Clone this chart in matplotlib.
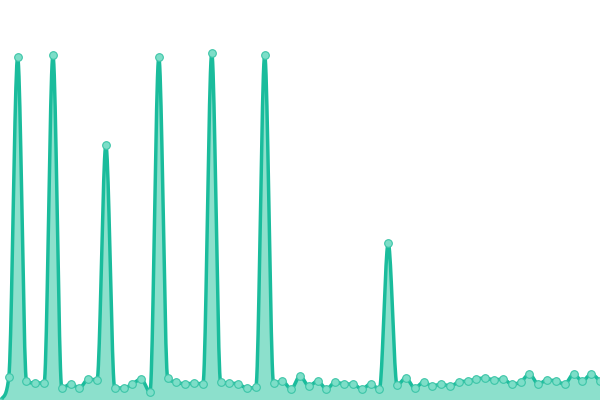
import numpy as np
import matplotlib
matplotlib.use("Agg")
import matplotlib.pyplot as plt

# values (0 = bottom edge, 400 = top edge)
values = [-2, 23, 343, 19, 17, 17, 345, 12, 16, 12, 21, 20,
          255, 12, 12, 16, 21, 8, 343, 22, 18, 16, 17, 16,
          347, 18, 17, 16, 12, 13, 345, 17, 19, 11, 24, 14,
          19, 11, 18, 16, 16, 11, 16, 11, 157, 15, 22, 12,
          18, 14, 16, 14, 18, 19, 21, 22, 20, 21, 16, 18,
          26, 16, 20, 19, 16, 26, 19, 26, 19]
idx = np.arange(len(values))

line_color = "#1abc9c"
fill_color = "#8ce0cc"
marker_color = "#7ddec8"


def monotone(x, y, n=20):
    # monotone cubic (Fritsch-Carlson), like d3.curveMonotoneX
    x = np.asarray(x, float)
    y = np.asarray(y, float)
    h = np.diff(x)
    d = np.diff(y) / h
    m = np.zeros_like(y)
    m[0], m[-1] = d[0], d[-1]
    for i in range(1, len(y) - 1):
        if d[i - 1] * d[i] <= 0:
            m[i] = 0
        else:
            m[i] = (d[i - 1] + d[i]) / 2
            a, b = m[i] / d[i - 1], m[i] / d[i]
            s = a * a + b * b
            if s > 9:
                t = 3 / np.sqrt(s)
                m[i] = t * a * d[i - 1]
    xs, ys = [], []
    for i in range(len(h)):
        t = np.linspace(0, 1, n, endpoint=False)
        h00 = 2 * t**3 - 3 * t**2 + 1
        h10 = t**3 - 2 * t**2 + t
        h01 = -2 * t**3 + 3 * t**2
        h11 = t**3 - t**2
        xs.append(x[i] + t * h[i])
        ys.append(h00 * y[i] + h10 * h[i] * m[i] + h01 * y[i + 1] + h11 * h[i] * m[i + 1])
    xs.append([x[-1]])
    ys.append([y[-1]])
    return np.concatenate(xs), np.concatenate(ys)


sx, sy = monotone(idx, values)

fig = plt.figure(figsize=(6, 4), dpi=100)
ax = fig.add_axes([0, 0, 1, 1])
ax.fill_between(sx, 0, sy, color=fill_color, lw=0)
ax.plot(sx, sy, color=line_color, lw=2.5, solid_capstyle="round")
ax.plot(idx, values, "o", ms=5.5, mfc=marker_color, mec="#3cc5a8", mew=0.8)
ax.set_xlim(0, len(values) - 1)
ax.set_ylim(0, 400)
ax.axis("off")
fig.savefig("out.png", dpi=100)
